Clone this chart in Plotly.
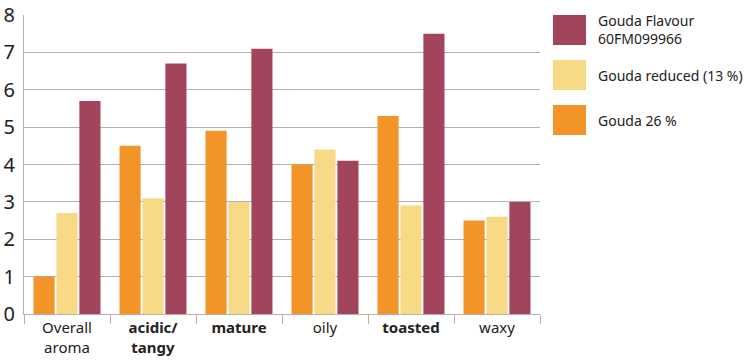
import plotly.graph_objects as go

categories = ["Overall<br>aroma", "<b>acidic/<br>tangy</b>", "<b>mature</b>", "oily", "<b>toasted</b>", "waxy"]
series_names = ["Gouda 26 %", "Gouda reduced (13 %)", "Gouda Flavour<br>60FM099966"]
gouda26 = [1.0, 4.5, 4.9, 4.0, 5.3, 2.5]
gouda_reduced = [2.7, 3.1, 3.0, 4.4, 2.9, 2.6]
gouda_flavour = [5.7, 6.7, 7.1, 4.1, 7.5, 3.0]
colors = ["#F29427", "#F8D985", "#A2445C"]
y_ticks = [0, 1, 2, 3, 4, 5, 6, 7, 8]

FONT = "Noto Sans"
fig = go.Figure()
for name, vals, c in zip(series_names, [gouda26, gouda_reduced, gouda_flavour], colors):
    fig.add_trace(go.Bar(x=categories, y=vals, name=name, marker_color=c,
                         marker_line_width=0, showlegend=False))

fig.update_layout(
    width=750, height=363,
    margin=dict(l=24, r=210, t=15, b=49),
    paper_bgcolor="white", plot_bgcolor="white",
    barmode="group", bargap=0.2, bargroupgap=0.08,
    font=dict(family=FONT, color="#222222"),
)
fig.update_yaxes(range=[0, 8], tickvals=y_ticks, showgrid=True, gridcolor="#B8B0B0",
                 gridwidth=1.2, showline=True, linecolor="#B8B0B0", linewidth=1,
                 tickfont=dict(size=20, family=FONT, color="#222222"), ticks="",
                 ticklabelstandoff=4,
                 zeroline=False, fixedrange=True, automargin=False)
fig.update_xaxes(showline=True, linecolor="#B8B0B0", linewidth=1.2, ticks="outside",
                 tickson="boundaries", ticklen=9, tickcolor="#B8B0B0", tickwidth=1,
                 tickfont=dict(size=15, family=FONT, color="#222222"), showgrid=False,
                 automargin=False)

# custom legend (top to bottom: flavour, reduced, 26%)
legend_items = list(zip(series_names, colors))[::-1]
y_tops = [15, 60, 105]
for (name, c), yt in zip(legend_items, y_tops):
    fig.add_shape(type="rect", xref="paper", yref="paper",
                  x0=(553 - 24) / 516, x1=(586 - 24) / 516,
                  y0=1 - (yt + 30 - 15) / 299, y1=1 - (yt - 15) / 299,
                  fillcolor=c, line_width=0)
    fig.add_annotation(xref="paper", yref="paper", x=(596 - 24) / 516,
                       y=1 - (yt + 15 - 15) / 299, text=name, showarrow=False,
                       xanchor="left", yanchor="middle", align="left",
                       font=dict(size=14, family=FONT, color="#222222"))

fig.write_html("out.html")
